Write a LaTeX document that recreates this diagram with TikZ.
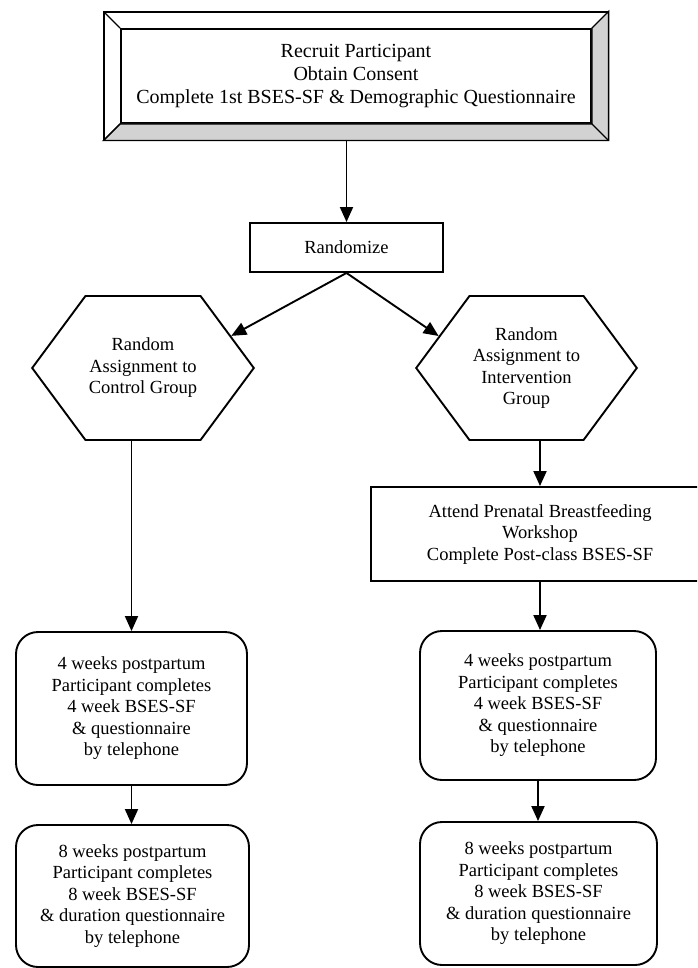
\documentclass[tikz,border=0pt]{standalone}
\usepackage{fontspec}
\setmainfont{Liberation Serif}
\usetikzlibrary{arrows.meta, positioning, shapes.symbols, calc, fit}

\newcommand{\flowfont}{\fontsize{18.5}{21.5}\selectfont}
\newcommand{\headfont}{\fontsize{20}{23}\selectfont}

\begin{document}
\begin{tikzpicture}[->, >={Triangle[length=15pt, width=13pt]}, x=1pt, y=-1pt, line width=1.9pt,
	box/.style={rectangle, draw, align=center, font=\flowfont},
	roundbox/.style={box, rounded corners=22pt},
	hexbox/.style={signal, signal to=east and west, signal pointer angle=107, draw, align=center, font=\flowfont}]
		\useasboundingbox (0,0) rectangle (697,968);
		\clip (0,0) rectangle (697,968);

		% beveled frame at the top
		\node[box, font=\headfont, minimum width=470pt, minimum height=94pt] (Recruit) at (356,76)
			{Recruit Participant \\ Obtain Consent \\ Complete 1st BSES-SF \& Demographic Questionnaire};
		\node[draw, line width=1.3pt, fit=(Recruit), inner sep=16pt] (Frame) {};
		\filldraw[-, line width=1.3pt, fill=gray!35] (Recruit.north east) -- (Frame.north east) -- (Frame.south east)
			-- (Frame.south west) -- (Recruit.south west) -- (Recruit.south east) -- cycle;
		\draw[-, line width=1.3pt] (Frame.north west) -- (Recruit.north west) (Frame.south west) -- (Recruit.south west)
			(Frame.south east) -- (Recruit.south east);

		\node[box, minimum width=193pt, minimum height=49pt] (Randomize) at (346.5,247.5) {Randomize};

		\node[hexbox, minimum width=214pt, minimum height=144pt] (CtrlGroup) at (143,368)
			{Random \\ Assignment to \\ Control Group};
		\node[hexbox, minimum width=217pt, minimum height=144pt] (IntvGroup) at (526.5,368)
			{Random \\ Assignment to \\ Intervention \\ Group};

		\node[box, minimum width=338pt, minimum height=94pt] (Workshop) at (540,534)
			{Attend Prenatal Breastfeeding \\ Workshop \\ Complete Post-class BSES-SF};

		\node[roundbox, minimum width=231pt, minimum height=153pt] (CtrlWeek4) at (131.5,708.5)
			{4 weeks postpartum \\ Participant completes \\ 4 week BSES-SF \\ \& questionnaire \\ by telephone};
		\node[roundbox, minimum width=236pt, minimum height=149pt] (IntvWeek4) at (538,705.5)
			{4 weeks postpartum \\ Participant completes \\ 4 week BSES-SF \\ \& questionnaire \\ by telephone};

		\node[roundbox, minimum width=233pt, minimum height=142pt] (CtrlWeek8) at (132.5,896)
			{8 weeks postpartum \\ Participant completes \\ 8 week BSES-SF \\ \& duration questionnaire \\ by telephone};
		\node[roundbox, minimum width=237pt, minimum height=143pt] (IntvWeek8) at (538.5,893.5)
			{8 weeks postpartum \\ Participant completes \\ 8 week BSES-SF \\ \& duration questionnaire \\ by telephone};

		\draw (Frame.south -| Randomize.north) -- (Randomize.north);
		\draw (Randomize.south) -- (CtrlGroup.20);
		\draw (Randomize.south) -- (IntvGroup.160);

		\draw (CtrlWeek4.north |- CtrlGroup.south) -- (CtrlWeek4.north);
		\draw (Workshop.north |- IntvGroup.south) -- (Workshop.north);
		\draw (Workshop.south) -- (Workshop.south |- IntvWeek4.north);

		\draw (CtrlWeek4.south) -- (CtrlWeek4.south |- CtrlWeek8.north);
		\draw (IntvWeek4.south) -- (IntvWeek4.south |- IntvWeek8.north);

	\end{tikzpicture}
\end{document}
